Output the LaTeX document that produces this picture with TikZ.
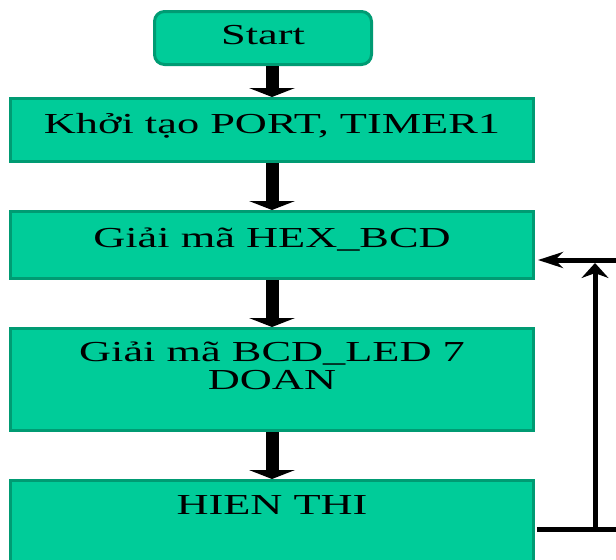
\documentclass[tikz,border=0pt]{standalone}
\usepackage{fontspec}
\setmainfont{Liberation Serif}[FakeStretch=1.53]
\usetikzlibrary{arrows.meta,positioning}
\definecolor{boxfill}{RGB}{0,204,153}
\definecolor{boxline}{RGB}{0,155,115}

\begin{document}
\begin{tikzpicture}[x=0.5pt, y=-0.5pt, node distance=23.5pt,
    box/.style={rectangle, draw=boxline, fill=boxfill, line width=1.5pt, minimum width=261.5pt, inner sep=0pt, align=center, font=\fontsize{14.5}{14}\selectfont, text height=10pt},
    startbox/.style={box, rounded corners=5pt, minimum width=108.5pt},
    flowarrow/.style={-{Triangle[width=23pt,length=4.5pt,line width=0pt]}, line width=6.5pt},
    back/.style={line width=2.5pt}]
    \useasboundingbox (0,0) rectangle (616,559);
    \clip (0,0) rectangle (616,559);

    \node[startbox, minimum height=26.5pt, text depth=4pt] (start) at (263,38) {Start};
    \node[box, minimum height=31.5pt, text depth=7pt, below=15.5pt of start, xshift=4.5pt] (khoi) {Khởi tạo PORT, TIMER1};
    \node[box, minimum height=33.5pt, text depth=8pt, below=of khoi] (hex) {Giải mã HEX\_BCD};
    \node[box, minimum height=51pt, text depth=0pt, below=of hex] (bcd) {Giải mã BCD\_LED 7\\DOAN};
    \node[box, minimum height=48.5pt, text depth=25pt, below=of bcd] (hien) {HIEN THI};

    \draw[flowarrow] (start.south -| khoi.north) -- (khoi.north);
    \draw[flowarrow] (khoi) -- (hex);
    \draw[flowarrow] (hex) -- (bcd);
    \draw[flowarrow] (bcd) -- (hien);

    % vong lap ve HEX_BCD
    \coordinate (fbtop) at (630,260);
    \coordinate (fbbot) at (630,529);
    \coordinate (fbturn) at (595,529);
    \draw[back, shorten <=1pt] (hien.east) -- (fbbot);
    \draw[back, -{Stealth[length=7.5pt,width=13.5pt]}, shorten >=1.5pt] (fbturn) -- (fbturn |- fbtop);
    \draw[back, -{Stealth[length=12.5pt,width=8pt]}, shorten >=1.5pt] (fbtop) -- (fbtop -| hex.east);
\end{tikzpicture}
\end{document}
